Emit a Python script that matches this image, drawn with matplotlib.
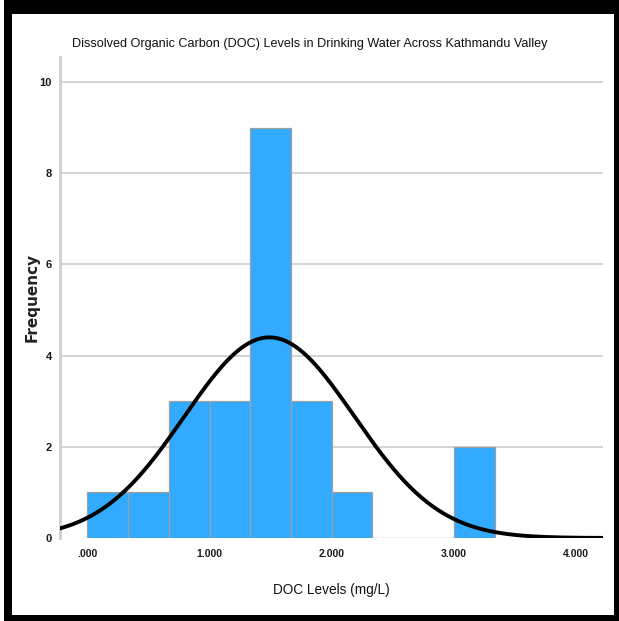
import numpy as np
import matplotlib
matplotlib.use("Agg")
import matplotlib.pyplot as plt
from matplotlib.patches import Rectangle

# histogram bins (mg/L) and counts
bin_edges = [0.0, 1/3, 2/3, 1.0, 4/3, 5/3, 2.0, 7/3, 8/3, 3.0, 10/3]
counts = [1, 1, 3, 3, 9, 3, 1, 0, 0, 2]
# fitted normal curve parameters
doc_mean = 1.49
doc_sd = 0.695
n_obs = 23

x_ticks = [0, 1, 2, 3, 4]
x_tick_labels = [".000", "1.000", "2.000", "3.000", "4.000"]
y_ticks = [0, 2, 4, 6, 8, 10]

arial = ["Liberation Sans", "DejaVu Sans"]

fig = plt.figure(figsize=(6.19, 6.21), dpi=100)
W, H = 619, 621

# black frame round the chart
fig.patches.append(Rectangle((4 / W, 0), 615 / W, 1, transform=fig.transFigure,
                             facecolor="black", edgecolor="none", zorder=-2))
fig.patches.append(Rectangle((12 / W, 6 / H), 602 / W, 601 / H, transform=fig.transFigure,
                             facecolor="white", edgecolor="none", zorder=-1))

ax = fig.add_axes([60 / W, 83 / H, 543 / W, 481 / H])
ax.set_facecolor("none")

widths = np.diff(bin_edges)
ax.bar(bin_edges[:-1], counts, width=widths, align="edge", color="#31aaff",
       edgecolor="#a0a0a0", linewidth=0.9, zorder=2)

bw = bin_edges[1] - bin_edges[0]
xs = np.linspace(-0.25, 4.22, 400)
ys = n_obs * bw * np.exp(-0.5 * ((xs - doc_mean) / doc_sd) ** 2) / (doc_sd * np.sqrt(2 * np.pi))
ax.plot(xs, ys, color="black", linewidth=2.8, zorder=3, solid_capstyle="butt")

ax.set_xlim(-0.223, 4.219)
ax.set_ylim(0, 10.55)

for y in y_ticks[1:]:
    ax.axhline(y, color="#d0d0d0", linewidth=1.3, zorder=1)

for s in ["top", "right", "bottom"]:
    ax.spines[s].set_visible(False)
ax.spines["left"].set_color("#cfcfcf")
ax.spines["left"].set_linewidth(2)

ax.set_xticks(x_ticks)
ax.set_xticklabels(x_tick_labels, family=arial, fontsize=7.5, fontweight="bold", color="#1a1a1a")
ax.set_yticks(y_ticks)
ax.set_yticklabels([str(v) for v in y_ticks], family=arial, fontsize=8, fontweight="bold", color="#1a1a1a")
ax.tick_params(length=0)
ax.tick_params(axis="x", pad=8)
ax.tick_params(axis="y", pad=6)

fig.text(310 / W, 1 - 44 / H, "Dissolved Organic Carbon (DOC) Levels in Drinking Water Across Kathmandu Valley",
         ha="center", va="center", family=arial, fontsize=9.1, color="#111111")
fig.text(331 / W, 1 - 590 / H, "DOC Levels (mg/L)", ha="center", va="center",
         family=arial, fontsize=9.8, color="#111111")
fig.text(32 / W, 1 - 297 / H, "Frequency", ha="center", va="center", rotation=90,
         family=["DejaVu Sans"], fontsize=11, fontweight="bold", color="#222222")

fig.savefig("out.png", dpi=100)
